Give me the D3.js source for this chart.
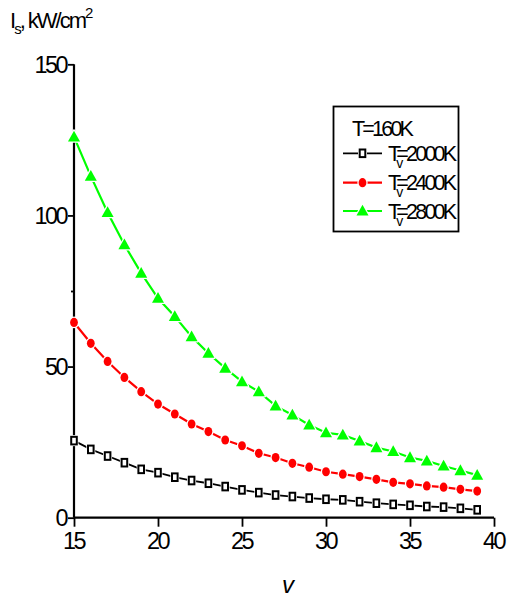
<!DOCTYPE html>
<html><head><meta charset="utf-8">
<script src="https://cdn.jsdelivr.net/npm/d3@7"></script>
<style>body{margin:0;background:#fff}svg{display:block}text{font-family:"Liberation Sans",Arial,sans-serif}</style>
</head><body><svg id="c" width="508" height="599"></svg>
<script>
const vValues = [15,16,17,18,19,20,21,22,23,24,25,26,27,28,29,30,31,32,33,34,35,36,37,38,39];
const is2000 = [25.5,22.6,20.4,18.2,16.0,14.9,13.4,12.3,11.4,10.3,9.2,8.3,7.5,7.0,6.5,6.1,5.9,5.3,4.8,4.4,4.1,3.7,3.5,3.1,2.6];
const is2400 = [64.6,57.7,51.7,46.4,41.7,37.6,34.3,31.0,28.5,25.7,23.8,21.3,19.9,18.0,16.7,15.2,14.4,13.6,12.7,11.7,11.2,10.5,10.1,9.4,8.8];
const is2800 = [126,113,101,90.3,80.9,72.6,66.6,59.9,54.4,49.5,45.0,41.7,37.0,34.0,30.7,28.1,27.4,25.4,23.2,21.9,19.9,18.8,17.1,15.6,14.1];
const xTicks = [15,20,25,30,35,40];
const yTicks = [0,50,100,150];
const yMinor = [25,75,125];
const seriesNames = ["2000K","2400K","2800K"];
const legendTitle = "T=160K";

const svg = d3.select("#c");
const x = d3.scaleLinear().domain([15,40]).range([74,494]);
const y = d3.scaleLinear().domain([0,150]).range([517.7,64.3]);

// axes
const gx = svg.append("g").attr("transform",`translate(0,${y(0)})`)
  .call(d3.axisBottom(x).tickValues(xTicks).tickSize(9).tickPadding(5).tickFormat(d3.format("d")));
const gy = svg.append("g").attr("transform",`translate(${x(15)},0)`)
  .call(d3.axisLeft(y).tickValues(yTicks).tickSize(6).tickPadding(2).tickFormat(d3.format("d")));
svg.append("g").attr("transform",`translate(${x(15)},0)`)
  .call(d3.axisLeft(y).tickValues(yMinor).tickSize(3).tickFormat(""))
  .call(g=>g.select(".domain").remove());
[gx,gy].forEach(g=>{
  g.select(".domain").attr("stroke","#000").attr("stroke-width",2.2);
  g.selectAll("text").attr("fill","#000").style("font-size","23.5px").style("letter-spacing","-2.6px")
   .style("font-family",'"Liberation Sans",Arial,sans-serif');
});
svg.selectAll(".tick line").attr("stroke","#000").attr("stroke-width",1.8);
gx.select(".domain").attr("d",`M${x(15)},0H${x(40)}`);
gy.select(".domain").attr("d",`M0,${y(150)}V${y(0)}`);
gx.selectAll("text").attr("dy","0.75em").attr("dx","-1");
gy.selectAll("text").attr("dy","0.34em");

// titles
const yt = svg.append("text").attr("x",10).attr("y",28).style("font-size","22px").style("letter-spacing","-2px");
yt.append("tspan").text("I");
yt.append("tspan").attr("dy",6).style("font-size","15px").text("s");
yt.append("tspan").attr("dy",-6).text(", kW/cm");
yt.append("tspan").attr("dy",-10).style("font-size","15px").text("2");
svg.append("text").attr("x",288).attr("y",593).attr("text-anchor","middle")
  .style("font-size","24px").style("font-style","italic").text("v");

// marker drawers
function drawSquare(g,cx,cy){
  g.append("rect").attr("x",cx-4.5).attr("y",cy-5.5).attr("width",9).attr("height",11).attr("fill","#fff");
  g.append("rect").attr("x",cx-2.8).attr("y",cy-3.8).attr("width",5.6).attr("height",7.6)
   .attr("fill","#fff").attr("stroke","#000").attr("stroke-width",2);
}
function drawCircle(g,cx,cy){
  g.append("ellipse").attr("cx",cx).attr("cy",cy).attr("rx",3.9).attr("ry",4.6)
   .attr("fill","#ff0000").attr("stroke","#fff").attr("stroke-width",2.5).attr("paint-order","stroke");
}
function drawTri(g,cx,cy){
  g.append("path").attr("d",`M${cx},${cy-6.2}L${cx+6},${cy+4.6}L${cx-6},${cy+4.6}Z`)
   .attr("fill","#00ff00").attr("stroke","#fff").attr("stroke-width",2.5).attr("paint-order","stroke").attr("stroke-linejoin","round");
}
const series = [
  {vals:is2000,color:"#000",w:1.8,draw:drawSquare},
  {vals:is2400,color:"#ff0000",w:2.2,draw:drawCircle},
  {vals:is2800,color:"#00ff00",w:2.2,draw:drawTri}
];
const line = d3.line().x(d=>x(d[0])).y(d=>y(d[1]));
series.forEach(s=>{
  const pts = vValues.map((v,i)=>[v,s.vals[i]]);
  svg.append("path").attr("d",line(pts)).attr("fill","none").attr("stroke",s.color).attr("stroke-width",s.w);
  const g = svg.append("g");
  pts.forEach(p=>s.draw(g,x(p[0]),y(p[1])));
});

// legend
const lg = svg.append("g");
lg.append("rect").attr("x",333.5).attr("y",106.5).attr("width",125).attr("height",125)
  .attr("fill","#fff").attr("stroke","#000").attr("stroke-width",1.8);
lg.append("text").attr("x",352).attr("y",136).style("font-size","21.5px").style("letter-spacing","-2.8px").text(legendTitle);
const rowY = [153.3,182.7,211];
series.forEach((s,i)=>{
  const ly = rowY[i];
  lg.append("line").attr("x1",343).attr("x2",382).attr("y1",ly).attr("y2",ly).attr("stroke",s.color).attr("stroke-width",s.w);
  s.draw(lg,362.5,ly);
  const t = lg.append("text").attr("x",388).attr("y",ly+7.5).style("font-size","21.5px").style("letter-spacing","-2.8px");
  t.append("tspan").text("T");
  t.append("tspan").attr("dy",7).attr("dx",-2).style("font-size","14px").style("letter-spacing","0px").text("v");
  t.append("tspan").attr("dy",-7).attr("dx",-7).text("="+seriesNames[i]);
});
</script></body></html>
